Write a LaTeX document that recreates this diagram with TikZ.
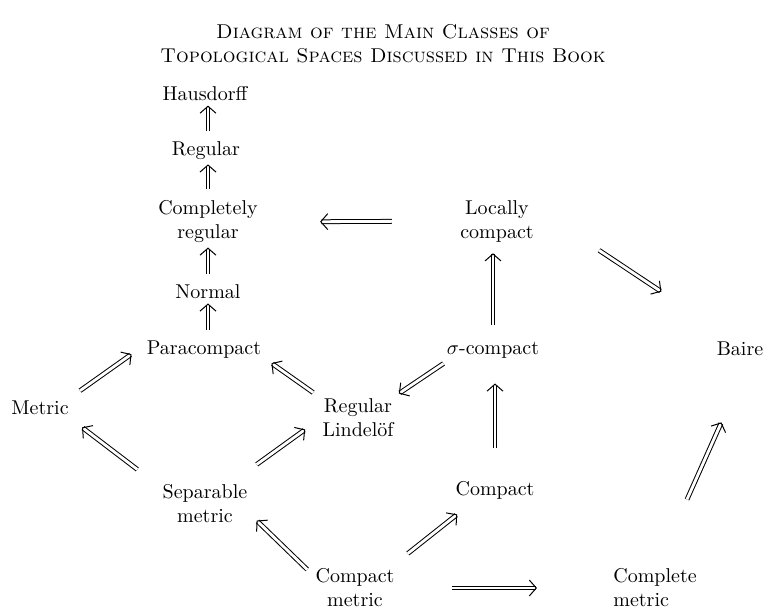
\documentclass[tikz,border=0pt]{standalone}
\usetikzlibrary{arrows.meta}
\begin{document}
\begin{tikzpicture}[x=0.5pt,y=-0.5pt,
  every node/.style={inner sep=0pt,align=center},
  imp/.style={double,double distance=1.4pt,line width=0.5pt,-{Straight Barb[length=3.5pt,width=8pt,line width=0.5pt]}},
  up/.style={imp,shorten <=5.5pt,shorten >=2pt}]
\useasboundingbox (0,0) rectangle (765,612);

\node[font=\scshape] (title) at (383,44) {Diagram of the Main Classes of\\Topological Spaces Discussed in This Book};

% left column
\node (haus) at (205,94) {Hausdorff};
\node (reg) at (206,151) {Regular};
\node (creg) at (208,222) {Completely\\regular};
\node (norm) at (208,292) {Normal};
\node (para) at (204,350) {Paracompact};
\node (met) at (40,408) {Metric};
\node (rlin) at (358,418) {Regular\\Lindel\"of};
\node (smet) at (205,504) {Separable\\metric};

% right part
\node (lcpt) at (497,221) {Locally\\compact};
\node (scpt) at (493,350) {$\sigma$-compact};
\node (baire) at (740,349) {Baire};
\node (cpt) at (495,490) {Compact};
\node (cmet) at (355,588) {Compact\\metric};
\node[align=left] (comet) at (655,588) {Complete\\metric};

\draw[up] (norm.north |- reg.north) -- (norm.north |- haus.south);
\draw[up] (norm.north |- creg.north) -- (norm.north |- reg.south);
\draw[up] (norm.north) -- (norm.north |- creg.south);
\draw[up] (norm.south |- para.north) -- (norm.south);

\draw[imp,shorten <=34pt,shorten >=31pt] (lcpt.west) -- (creg.east);
\draw[imp,shorten <=8.5pt,shorten >=5.5pt] (scpt.north) -- (scpt.north |- lcpt.south);
\draw[imp,shorten <=16.5pt,shorten >=12.5pt] (cpt.north) -- (cpt.north |- scpt.south);

\draw[imp] ([shift={(-3,5)}]scpt.south west) -- ([shift={(5,-5)}]rlin.north east);
\draw[imp] ([shift={(-9,-6)}]rlin.north west) -- ([shift={(10,4)}]para.south east);
\draw[imp] ([shift={(11,-10)}]met.north east) -- ([shift={(-15,-5)}]para.south west);
\draw[imp] ([shift={(-25,-15)}]smet.north west) -- ([shift={(13,12)}]met.south east);
\draw[imp] ([shift={(9,-20)}]smet.north east) -- ([shift={(-17,-8)}]rlin.south west);
\draw[imp] ([shift={(-8,1)}]cmet.north west) -- ([shift={(9,-3)}]smet.south east);
\draw[imp] ([shift={(13,-15)}]cmet.north east) -- ([shift={(2,15)}]cpt.south west);
\draw[imp,shorten <=28.5pt,shorten >=38pt] (cmet.east) -- (comet.west);

\draw[imp] ([shift={(65,8)}]lcpt.south east) -- ([shift={(-55,-50)}]baire.north west);
\draw[imp] ([shift={(32,-69)}]comet.north) -- ([shift={(5,66)}]baire.south west);
\end{tikzpicture}
\end{document}
